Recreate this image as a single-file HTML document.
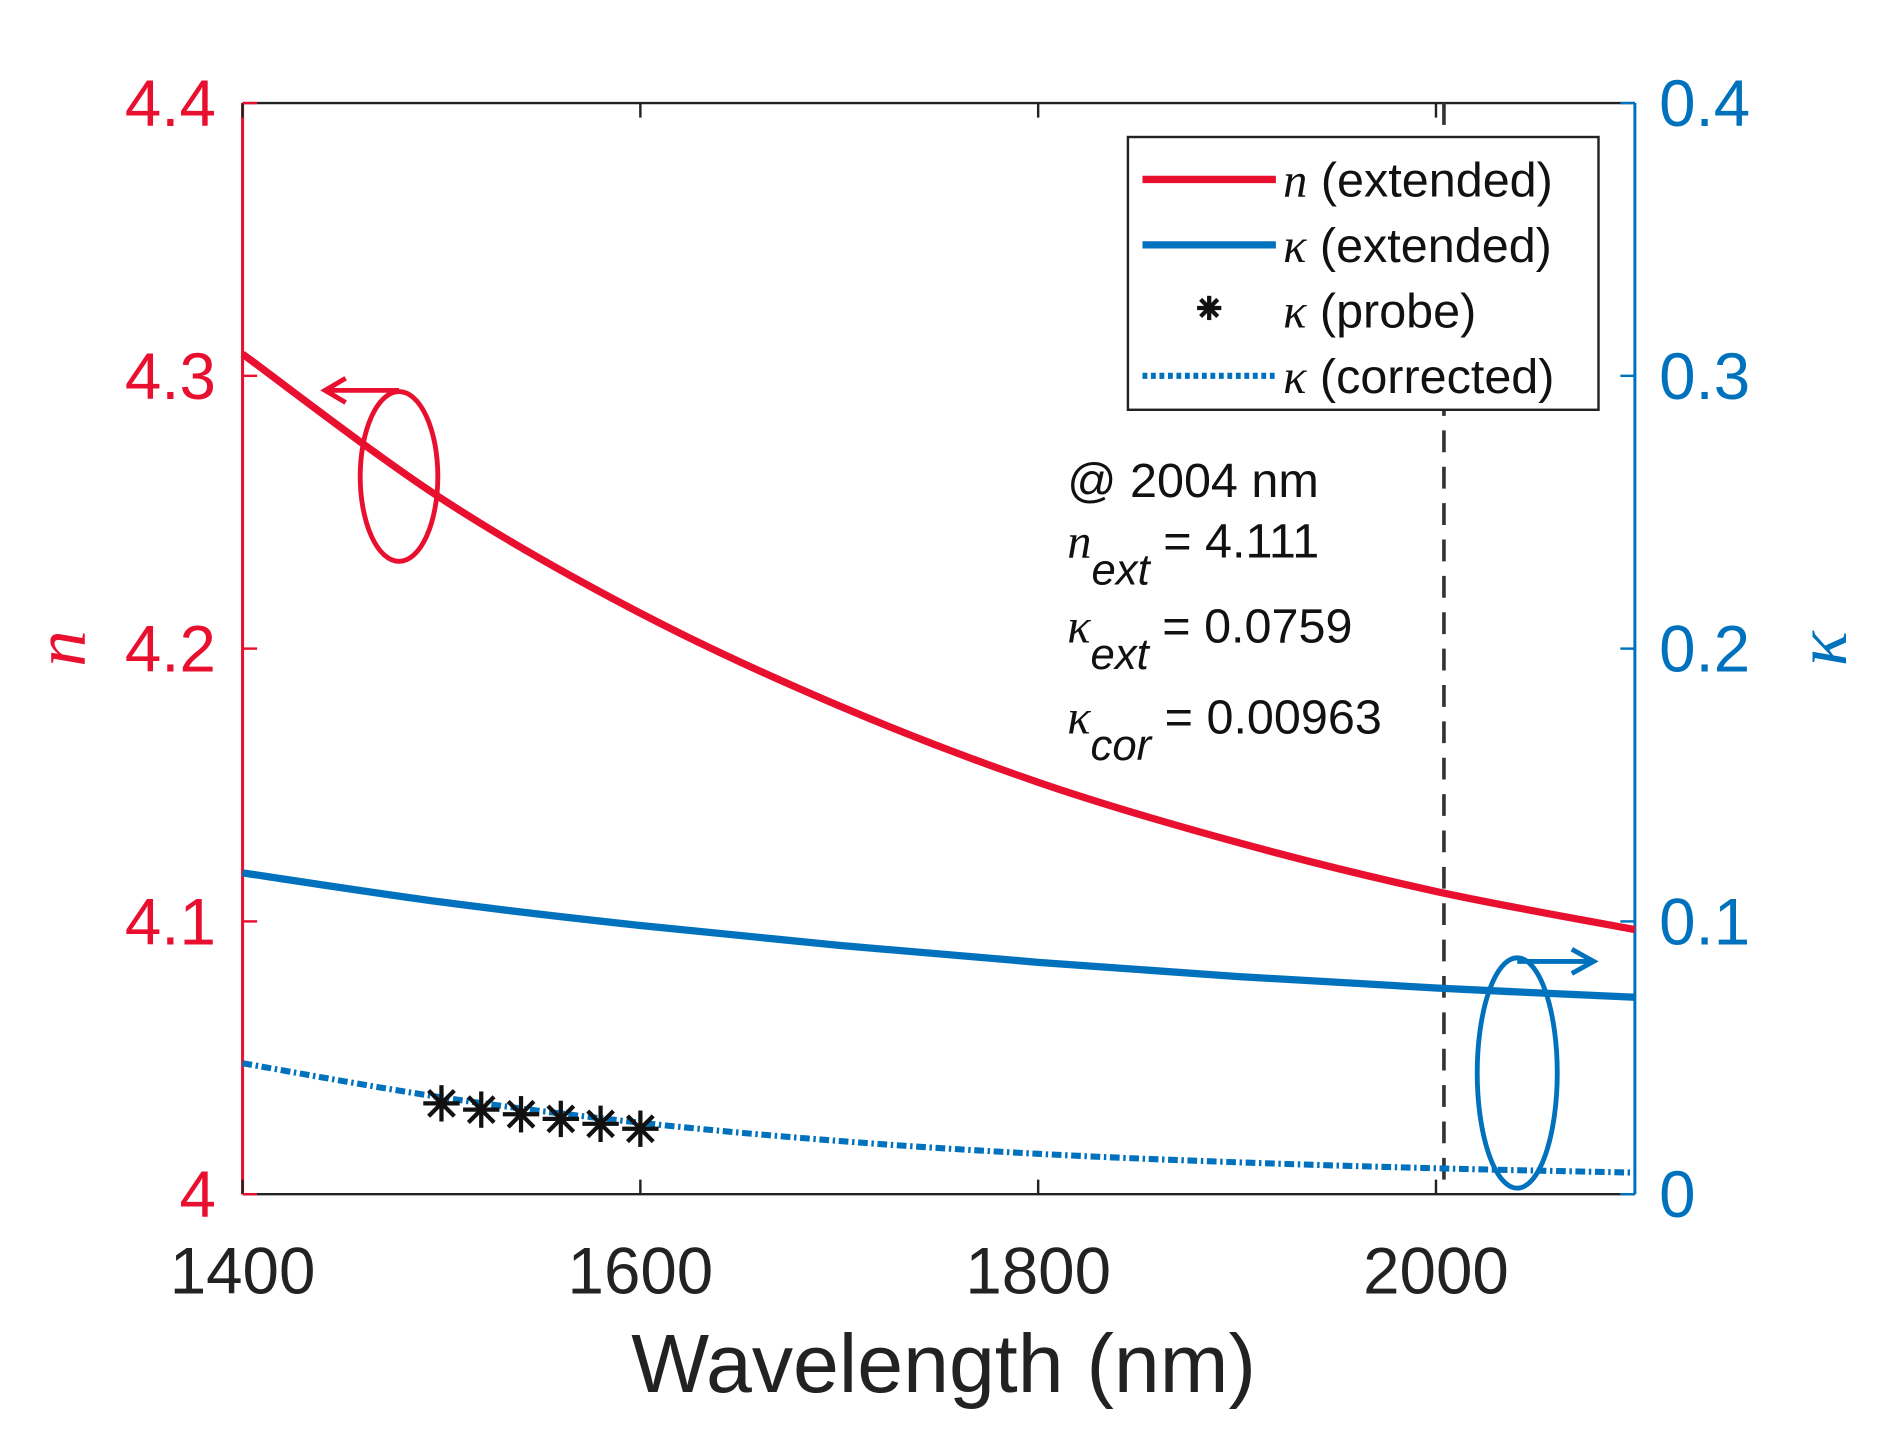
<!DOCTYPE html>
<html><head><meta charset="utf-8"><style>
html,body{margin:0;padding:0;background:#fff;}
svg{display:block;font-family:"Liberation Sans",Arial,sans-serif;}
</style></head><body>
<svg id="chart" width="1892" height="1450" viewBox="0 0 1560 1196" preserveAspectRatio="none" xmlns="http://www.w3.org/2000/svg">
<g id="plot"></g>
</svg>
<script>
const wavelengths = [1400,1500,1600,1700,1800,1900,2000,2100];
const nExtended = [4.308,4.255,4.213,4.179,4.151,4.129,4.111,4.097];
const kExtended = [0.1178,0.1071,0.0985,0.0912,0.0850,0.0798,0.0756,0.0722];
const kCorrected = [0.048,0.0355,0.0262,0.0195,0.0148,0.0117,0.0095,0.0079];
const probeWl = [1500,1520,1540,1560,1580,1600];
const probeK = [0.0333,0.031,0.0293,0.0276,0.0258,0.024];
const xTicks = [1400,1600,1800,2000];
const nTicks = [4,4.1,4.2,4.3,4.4];
const kTicks = [0,0.1,0.2,0.3,0.4];
const markerWl = 2004;

const L=200,R=1348,T=85,B=985;
const RED='#e8102e', BLUE='#0072bd';
const xS=v=>L+(v-1400)/(2100-1400)*(R-L);
const nS=v=>B-(v-4)/(0.4)*(B-T);
const kS=v=>B-(v)/(0.4)*(B-T);
const svg=document.getElementById('plot');
const NS='http://www.w3.org/2000/svg';
function mk(tag,attrs,parent){const e=document.createElementNS(NS,tag);for(const k in attrs)e.setAttribute(k,attrs[k]);(parent||svg).appendChild(e);return e;}
function smooth(xs,ys){
  const p=xs.map((x,i)=>[x,ys[i]]);let d=`M${p[0][0]},${p[0][1]}`;
  for(let i=0;i<p.length-1;i++){const p0=p[i-1]||p[i],p1=p[i],p2=p[i+1],p3=p[i+2]||p2;
    d+=` C${p1[0]+(p2[0]-p0[0])/6},${p1[1]+(p2[1]-p0[1])/6} ${p2[0]-(p3[0]-p1[0])/6},${p2[1]-(p3[1]-p1[1])/6} ${p2[0]},${p2[1]}`;}
  return d;}
function star(g,cx,cy,r,w,col){
  for(let a=0;a<4;a++){const t=a*Math.PI/4;
    mk('line',{x1:cx-r*Math.cos(t),y1:cy-r*Math.sin(t),x2:cx+r*Math.cos(t),y2:cy+r*Math.sin(t),stroke:col,'stroke-width':w},g);}}

let e;
e=mk('line',{x1:L,y1:T,x2:R,y2:T,stroke:'#222','stroke-width':2});

e=mk('line',{x1:L,y1:B,x2:R,y2:B,stroke:'#222','stroke-width':2});

e=mk('line',{x1:L,y1:T,x2:L,y2:B,stroke:RED,'stroke-width':2.5});

e=mk('line',{x1:R,y1:T,x2:R,y2:B,stroke:BLUE,'stroke-width':2.5});


xTicks.forEach(v=>{const x=xS(v);
  mk('line',{x1:x,y1:B,x2:x,y2:B-12,stroke:'#222','stroke-width':2});
  mk('line',{x1:x,y1:T,x2:x,y2:T+12,stroke:'#222','stroke-width':2});
  e=mk('text',{x:x,y:B+82,'text-anchor':'middle','font-size':54,fill:'#222'});e.textContent=v;
  });
nTicks.forEach(v=>{const y=nS(v);
  mk('line',{x1:L,y1:y,x2:L+12,y2:y,stroke:RED,'stroke-width':2});
  e=mk('text',{x:L-22,y:y+19,'text-anchor':'end','font-size':54,fill:RED});e.textContent=String(v);
  });
kTicks.forEach(v=>{const y=kS(v);
  mk('line',{x1:R,y1:y,x2:R-12,y2:y,stroke:BLUE,'stroke-width':2});
  e=mk('text',{x:R+20,y:y+19,'text-anchor':'start','font-size':54,fill:BLUE});e.textContent=String(v);
  });

e=mk('text',{x:778,y:1148,'text-anchor':'middle','font-size':68,fill:'#222'});e.textContent='Wavelength (nm)';

e=mk('text',{x:70,y:535,'text-anchor':'middle','font-size':60,fill:RED,'font-family':'Liberation Serif, serif','font-style':'italic',transform:'rotate(-90 70 535)'});e.textContent='n';

e=mk('text',{x:1522,y:535,'text-anchor':'middle','font-size':60,fill:BLUE,'font-family':'Liberation Serif, serif','font-style':'italic',transform:'rotate(-90 1522 535)'});e.textContent='κ';


e=mk('line',{x1:xS(markerWl),y1:T,x2:xS(markerWl),y2:B,stroke:'#333','stroke-width':3,'stroke-dasharray':'18 12'});


const xs=wavelengths.map(xS);
e=mk('path',{d:smooth(xs,nExtended.map(nS)),fill:'none',stroke:RED,'stroke-width':6});

e=mk('path',{d:smooth(xs,kExtended.map(kS)),fill:'none',stroke:BLUE,'stroke-width':6});

e=mk('path',{d:smooth(xs,kCorrected.map(kS)),fill:'none',stroke:BLUE,'stroke-width':5,'stroke-dasharray':'8 3 2 3'});

probeWl.forEach((w,i)=>{
  const g=mk('g',{});
  
  star(g,xS(w),kS(probeK[i]),15,3.5,'#111');});

e=mk('ellipse',{cx:329,cy:393,rx:32,ry:70,fill:'none',stroke:RED,'stroke-width':4});

e=mk('path',{d:'M329,322 L270,322 M285,312 L268,322 L285,332',fill:'none',stroke:RED,'stroke-width':4});

e=mk('ellipse',{cx:1251,cy:885,rx:33,ry:95,fill:'none',stroke:BLUE,'stroke-width':4});

e=mk('path',{d:'M1251,793 L1312,793 M1296,783 L1314,793 L1296,803',fill:'none',stroke:BLUE,'stroke-width':4});


const lg=mk('g',{});

mk('rect',{x:930,y:113,width:388,height:225,fill:'#fff',stroke:'#222','stroke-width':2},lg);
const entries=[['n',' (extended)','solid',RED],['κ',' (extended)','solid',BLUE],['κ',' (probe)','star','#111'],['κ',' (corrected)','dot',BLUE]];
entries.forEach((en,i)=>{const y=148+i*54;
  const g=mk('g',{},lg);
  if(en[2]==='solid')mk('line',{x1:942,y1:y,x2:1052,y2:y,stroke:en[3],'stroke-width':6},g);
  else if(en[2]==='dot')mk('line',{x1:942,y1:y,x2:1052,y2:y,stroke:en[3],'stroke-width':5,'stroke-dasharray':'4 3'},g);
  else star(g,997,y-2,10,3.5,'#111');
  const t=mk('text',{x:1058,y:y+14,'font-size':40,fill:'#111'},g);
  const s1=mk('tspan',{'font-family':'Liberation Serif, serif','font-style':'italic'},t);s1.textContent=en[0];
  const s2=mk('tspan',{},t);s2.textContent=en[1];});

const ann=mk('g',{});
let t=mk('text',{x:880,y:410,'font-size':40,fill:'#111'},ann);t.textContent='@ 2004 nm';
function sub(y,sym,subs,val){const t=mk('text',{x:880,y:y,'font-size':40,fill:'#111'},ann);
  const a=mk('tspan',{'font-family':'Liberation Serif, serif','font-style':'italic'},t);a.textContent=sym;
  const b=mk('tspan',{dy:22,'font-style':'italic','font-size':36},t);b.textContent=subs;
  const c=mk('tspan',{dy:-22},t);c.textContent=' = '+val;}
sub(460,'n','ext','4.111');sub(530,'κ','ext','0.0759');sub(605,'κ','cor','0.00963');
</script>
</body></html>
